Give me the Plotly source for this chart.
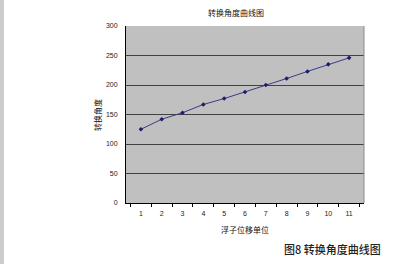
import plotly.graph_objects as go

categories = ["1", "2", "3", "4", "5", "6", "7", "8", "9", "10", "11"]
angles = [125, 142, 153, 167, 177, 188, 200, 211, 223, 235, 246]
y_ticks = [0, 50, 100, 150, 200, 250, 300]

W, H = 406, 264
L, R, T, B = 126, 42, 26, 61
PW, PH = W - L - R, H - T - B

def px(x):
    return (x - L) / PW

def py(y):
    return (H - B - y) / PH

fig = go.Figure()
fig.add_trace(go.Scatter(
    x=categories, y=angles, mode="lines+markers",
    line=dict(color="#3b3b86", width=1),
    marker=dict(symbol="diamond", size=3.5, color="#1c1c6a"),
    showlegend=False,
))

font_cjk = "Noto Sans CJK SC"

def ann(text, x, y, size, color="#111", angle=0, weight=400):
    return dict(text=text, x=px(x), y=py(y), xref="paper", yref="paper",
                xanchor="center", yanchor="middle", showarrow=False,
                textangle=angle,
                font=dict(family=font_cjk, size=size, color=color, weight=weight))

fig.update_layout(
    width=W, height=H,
    margin=dict(l=L, r=R, t=T, b=B),
    paper_bgcolor="white",
    plot_bgcolor="#c0c0c0",
    font=dict(family="Liberation Sans, " + font_cjk, size=7, color="#222"),
    xaxis=dict(
        type="category", tickson="boundaries", ticks="outside", ticklen=3,
        tickcolor="#000", showline=True, linecolor="#000", linewidth=1,
        showgrid=False, tickfont=dict(size=7, color="#222"), ticklabelstandoff=4,
    ),
    yaxis=dict(
        range=[0, 300], tickvals=y_ticks, showline=True, linecolor="#000",
        linewidth=1, gridcolor="#424242", gridwidth=1, ticks="",
        tickfont=dict(size=7, color="#222"), zeroline=False, ticklabelstandoff=6,
    ),
    shapes=[
        dict(type="line", xref="paper", yref="paper", x0=1, x1=1, y0=0, y1=1,
             line=dict(color="#8a8a8a", width=1)),
        dict(type="rect", xref="paper", yref="paper", x0=px(0), x1=px(4),
             y0=py(H), y1=py(0), fillcolor="#cccccc", line=dict(width=0), layer="below"),
    ],
    annotations=[
        ann("转换角度曲线图", 236, 12, 8),
        ann("转换角度", 98, 115, 8, angle=-90),
        ann("浮子位移单位", 245, 229, 8),
        ann("图8 转换角度曲线图", 332, 249, 11, color="#222", weight=500),
    ],
)

fig.write_html("out.html")
